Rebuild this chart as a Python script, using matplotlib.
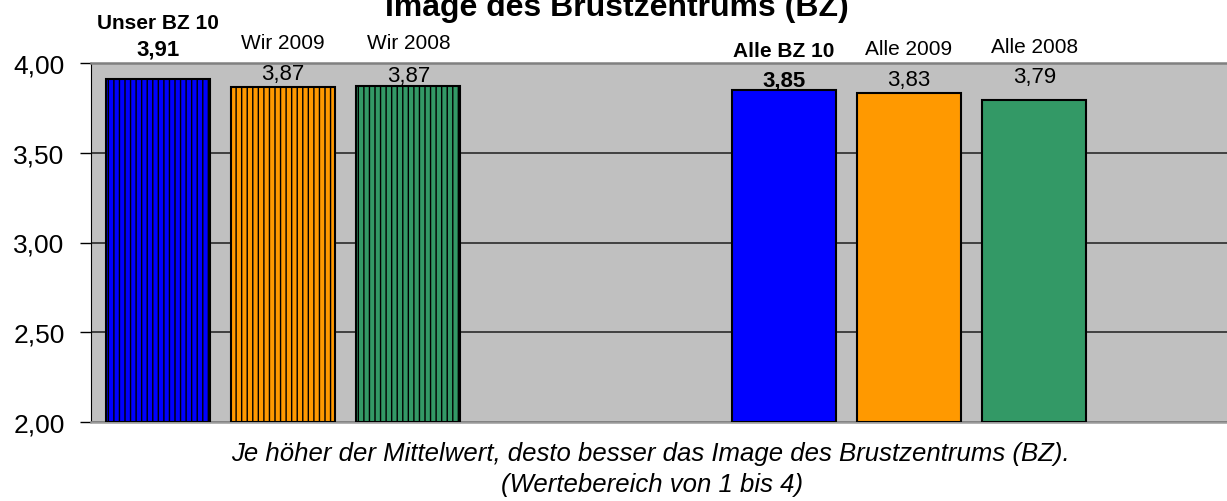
import numpy as np
import matplotlib
matplotlib.use('Agg')
import matplotlib.pyplot as plt
from matplotlib.ticker import FuncFormatter

plt.rcParams['font.family'] = ['Liberation Sans', 'DejaVu Sans']
plt.rcParams['hatch.linewidth'] = 1.0

# Daten
kategorien = ['Unser BZ 10', 'Wir 2009', 'Wir 2008', 'Alle BZ 10', 'Alle 2009', 'Alle 2008']
werte = [3.91, 3.868, 3.874, 3.848, 3.835, 3.792]
positionen = [0, 1, 2, 5, 6, 7]
farben = ['#0000FF', '#FF9900', '#339966', '#0000FF', '#FF9900', '#339966']
schraffiert = [True, True, True, False, False, False]
fett = [True, False, False, True, False, False]

# Abstand der Beschriftungen über den Balken (Pixel)
abstand_wert = [30, 13, 10, 10, 13, 24]
abstand_name = [27, 31, 33, 30, 31, 30]

fig = plt.figure(figsize=(12.27, 5.02), dpi=100)
ax = fig.add_axes([91 / 1227, 1 - 423 / 502, 1 - 91 / 1227, (423 - 64) / 502])
ax.set_facecolor('#C0C0C0')

for pos, w, c, h in zip(positionen, werte, farben, schraffiert):
    ax.bar(pos, w - 2, bottom=2, width=0.83, color=c, edgecolor='black',
           linewidth=1.5, hatch='|||' if h else None, zorder=3)

ax.set_xlim(-0.535, 8.54)
ax.set_ylim(2, 4)
ax.set_yticks([2, 2.5, 3, 3.5, 4])
ax.yaxis.set_major_formatter(FuncFormatter(lambda v, p: f'{v:.2f}'.replace('.', ',')))
ax.tick_params(axis='y', labelsize=19, length=8, width=1, direction='out', pad=11)
ax.set_xticks([])
ax.grid(axis='y', color='#2a2a2a', linewidth=1.2, zorder=1)

ax.spines['right'].set_visible(False)
ax.spines['left'].set_color('black')
ax.spines['top'].set_color('#808080')
ax.spines['top'].set_linewidth(1.8)
ax.spines['bottom'].set_color('#999999')
ax.spines['bottom'].set_linewidth(1.8)

for pos, w, name, b, dw, dn in zip(positionen, werte, kategorien, fett, abstand_wert, abstand_name):
    gewicht = 'bold' if b else 'normal'
    ax.annotate(f'{w:.2f}'.replace('.', ','), (pos, w), xytext=(0, dw),
                textcoords='offset pixels', ha='center', va='center',
                fontsize=16, fontweight=gewicht, annotation_clip=False)
    ax.annotate(name, (pos, w), xytext=(0, dw + dn),
                textcoords='offset pixels', ha='center', va='center',
                fontsize=15, fontweight=gewicht, annotation_clip=False)

fig.text(617 / 1227, 1 - 16 / 502, 'Image des Brustzentrums (BZ)', ha='center',
         va='baseline', fontsize=23, fontweight='bold')
fig.text(650 / 1227, 1 - 461 / 502,
         'Je höher der Mittelwert, desto besser das Image des Brustzentrums (BZ).',
         ha='center', va='baseline', fontsize=18.5, style='italic')
fig.text(652 / 1227, 1 - 492 / 502, '(Wertebereich von 1 bis 4)',
         ha='center', va='baseline', fontsize=18.5, style='italic')

fig.savefig('out.png', dpi=100)
